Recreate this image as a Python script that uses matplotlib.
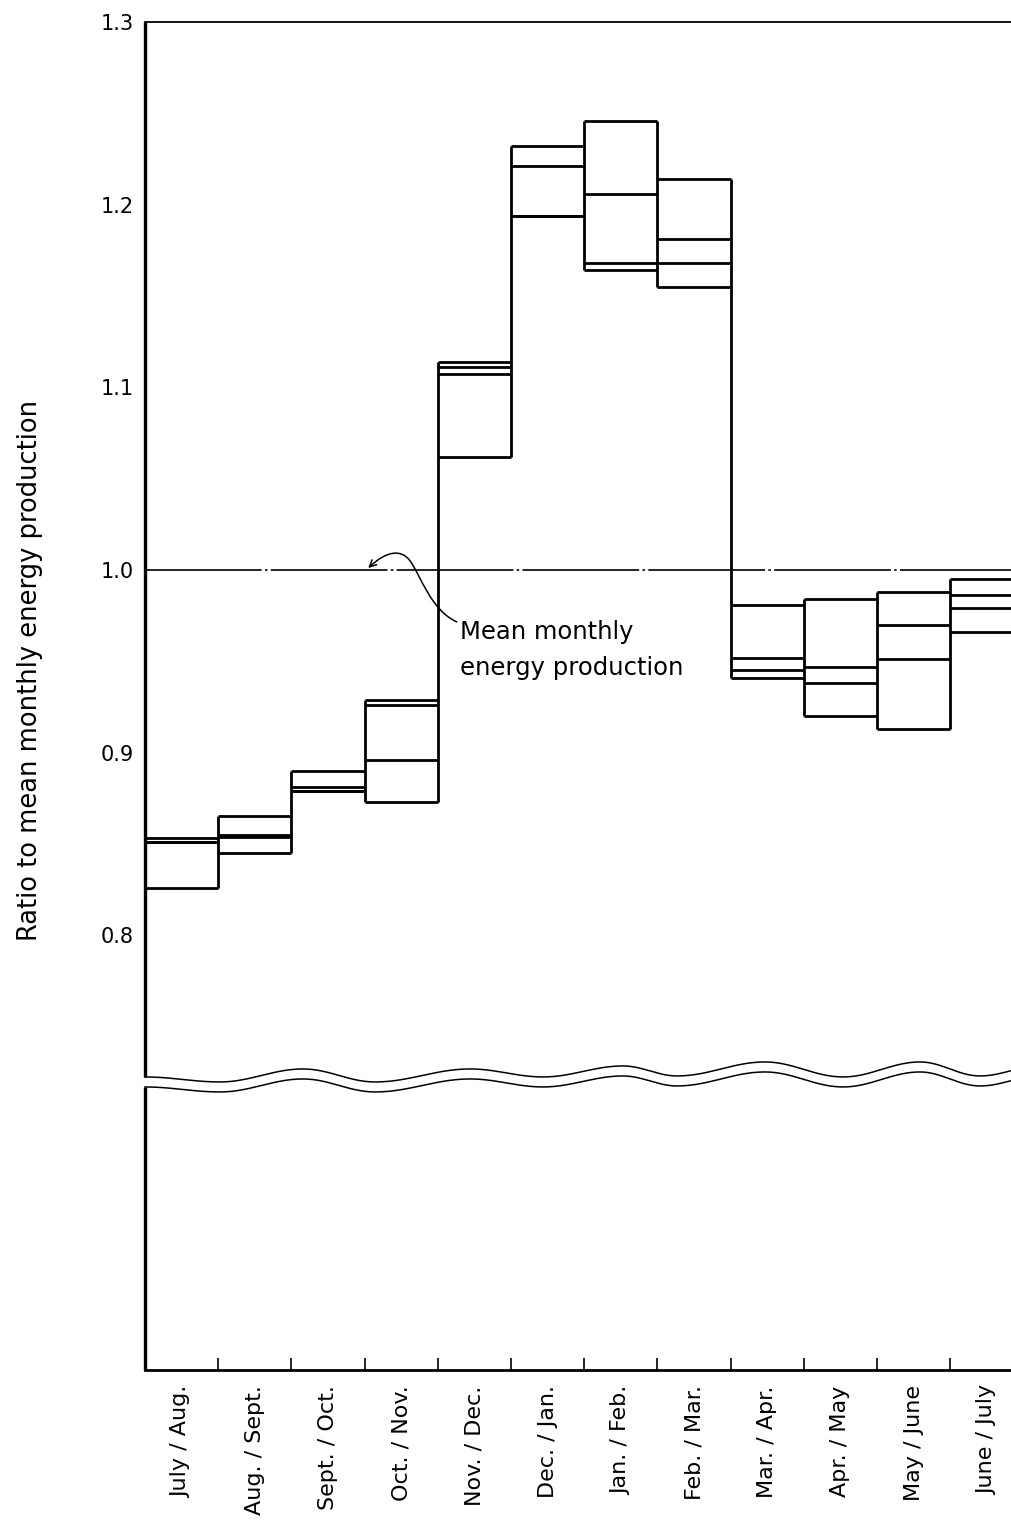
import matplotlib
matplotlib.use("Agg")
import matplotlib.pyplot as plt
import numpy as np
from matplotlib.path import Path
from matplotlib.patches import FancyArrowPatch

# two-month periods
periods = ["July / Aug.", "Aug. / Sept.", "Sept. / Oct.", "Oct. / Nov.",
           "Nov. / Dec.", "Dec. / Jan.", "Jan. / Feb.", "Feb. / Mar.",
           "Mar. / Apr.", "Apr. / May", "May / June", "June / July"]

# ratio levels, highest to lowest in each period
level_1 = [0.853, 0.865, 0.890, 0.929, 1.114, 1.232, 1.246, 1.214, 0.981, 0.984, 0.988, 0.995]
level_2 = [0.851, 0.855, 0.881, 0.926, 1.111, 1.221, 1.206, 1.181, 0.952, 0.947, 0.970, 0.986]
level_3 = [0.851, 0.854, 0.879, 0.896, 1.107, 1.194, 1.168, 1.168, 0.945, 0.938, 0.951, 0.979]
level_4 = [0.826, 0.845, 0.879, 0.873, 1.062, 1.194, 1.164, 1.155, 0.941, 0.920, 0.913, 0.966]

y_ticks = [0.8, 0.9, 1.0, 1.1, 1.2, 1.3]
y_ticklabels = ["0.8", "0.9", "1.0", "1.1", "1.2", "1.3"]

# hand drawn axis break (pixel x, pixel y of upper wave)
wave_px = [(145, 1077), (220, 1082), (303, 1069), (375, 1082), (470, 1069),
           (543, 1077), (623, 1066), (677, 1076), (765, 1062), (843, 1077),
           (920, 1062), (980, 1076), (1040, 1066)]

plt.rcParams['font.family'] = ['DejaVu Sans']

W, H = 1012, 1523
fig = plt.figure(figsize=(W / 100, H / 100), dpi=100)
unit = 73.2            # px per period
ax = fig.add_axes([145 / W, (H - 1370) / H, 13 * unit / W, (1370 - 22) / H])
ax.set_xlim(0, 13)
ymin = 1.0 - (1370 - 570) / 1826
ax.set_ylim(ymin, 1.3)


def px2data(px, py):
    return (px - 145) / unit, 1.0 - (py - 570) / 1826


n = len(periods)
left = np.arange(n)
right = left + 1
levels = np.array([level_1, level_2, level_3, level_4])
for lev in levels:
    ax.hlines(lev, left, right, color='black', lw=2.0, zorder=4)

lo = levels.min(axis=0)
hi = levels.max(axis=0)
for i in range(1, n + 1):
    if i < n:
        a, b = min(lo[i - 1], lo[i]), max(hi[i - 1], hi[i])
    else:
        a, b = lo[i - 1], hi[i - 1]
    ax.vlines(i, a, b, color='black', lw=2.0, zorder=4)

# mean line
ax.axhline(1.0, color='black', lw=1.2, ls=(0, (70, 2, 1.5, 2)), zorder=3)

# spines
for s in ['right', 'left']:
    ax.spines[s].set_visible(False)
ax.spines['top'].set_linewidth(1.3)
ax.spines['bottom'].set_linewidth(2.0)

# axis break wave
wx = np.array([p[0] for p in wave_px], float)
wy = np.array([p[1] for p in wave_px], float)
xs, ys = [], []
for k in range(len(wx) - 1):
    t = np.linspace(0, 1, 30)
    s = (1 - np.cos(np.pi * t)) / 2
    xs.append(wx[k] + (wx[k + 1] - wx[k]) * t)
    ys.append(wy[k] + (wy[k + 1] - wy[k]) * s)
xs = np.concatenate(xs)
ys = np.concatenate(ys)
up_x, up_y = px2data(xs, ys)
lw_x, lw_y = px2data(xs, ys + 10)
ax.plot(up_x, up_y, color='black', lw=1.1, clip_on=False, zorder=5)
ax.plot(lw_x, lw_y, color='black', lw=1.1, clip_on=False, zorder=5)

# left spine broken at the wave
ax.plot([0, 0], [up_y[0], 1.3], color='black', lw=2.4, clip_on=False, zorder=5,
        solid_capstyle='butt')
ax.plot([0, 0], [ymin, lw_y[0]], color='black', lw=2.4, clip_on=False, zorder=5,
        solid_capstyle='butt')

# ticks
ax.set_xticks(np.arange(1, n + 1))
ax.set_xticklabels([])
ax.tick_params(axis='x', which='major', direction='in', length=8.5, width=1.2)
ax.set_xticks(left + 0.5, minor=True)
ax.set_xticklabels(periods, minor=True, rotation=90, va='top', ha='center',
                   fontsize=16)
ax.tick_params(axis='x', which='minor', length=0, pad=11)

ax.set_yticks(y_ticks)
ax.set_yticklabels(y_ticklabels, fontsize=15)
ax.tick_params(axis='y', length=0, pad=8)

fig.text(30 / W, 1 - 670 / H, "Ratio to mean monthly energy production",
         rotation=90, ha='center', va='center', fontsize=18.5)

# annotation
tx, ty = px2data(460, 620)
ax.text(tx, ty, "Mean monthly\nenergy production", ha='left', va='top',
        fontsize=17.5, linespacing=1.65, zorder=6)
verts = [(4.26, 0.9715), (3.90, 0.978), (3.764, 0.9972), (3.62, 1.005),
         (3.50, 1.0115), (3.30, 1.0105), (3.05, 1.001)]
codes = [Path.MOVETO, Path.CURVE4, Path.CURVE4, Path.CURVE4,
         Path.CURVE4, Path.CURVE4, Path.CURVE4]
arrow = FancyArrowPatch(path=Path(verts, codes), arrowstyle='->',
                        mutation_scale=12, lw=1.1, color='black', zorder=6)
ax.add_patch(arrow)

fig.savefig("out.png", dpi=100)
